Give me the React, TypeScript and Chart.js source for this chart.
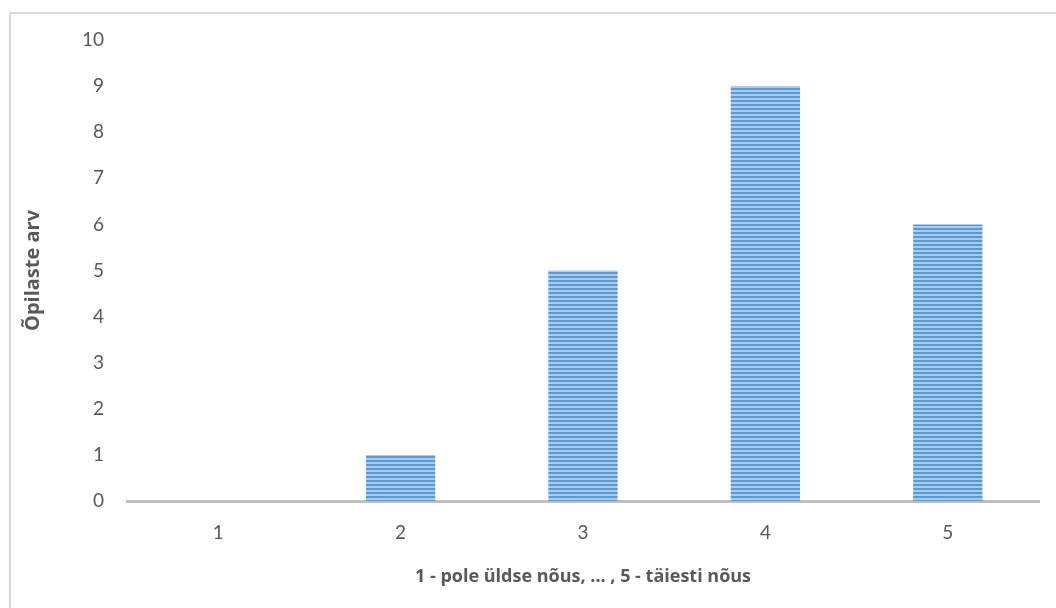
import React, { useEffect, useRef } from "react";
import { Chart, registerables } from "chart.js";

Chart.register(...registerables);

const categories = ["1", "2", "3", "4", "5"];
const studentCounts = [0, 1, 5, 9, 6];
const yTicks = [0, 1, 2, 3, 4, 5, 6, 7, 8, 9, 10];
const xAxisTitle = "1 - pole üldse nõus, ... , 5 - täiesti nõus";
const yAxisTitle = "Õpilaste arv";

const TEXT = "#595959";
const FONT = "Lato, 'Open Sans', sans-serif";
const TITLE_FONT = "'Open Sans', Lato, sans-serif";

// Horizontal-stripe fill for the bars
function makeStripes(ctx: CanvasRenderingContext2D): CanvasPattern | string {
  const c = document.createElement("canvas");
  c.width = 4;
  c.height = 4;
  const p = c.getContext("2d");
  if (!p) return "#5B9BD5";
  p.fillStyle = "#5B9BD5";
  p.fillRect(0, 0, 4, 2);
  p.fillStyle = "#A9CBEC";
  p.fillRect(0, 2, 4, 2);
  return ctx.createPattern(c, "repeat") || "#5B9BD5";
}

// Light frame around the chart area of the page
const framePlugin = {
  id: "frame",
  beforeDraw(chart: Chart) {
    const ctx = chart.ctx;
    ctx.save();
    ctx.fillStyle = "#ffffff";
    ctx.fillRect(0, 0, chart.width, chart.height);
    ctx.strokeStyle = "#D9D9D9";
    ctx.lineWidth = 2;
    ctx.strokeRect(10, 13, 3000, 3000);
    ctx.restore();
  },
};

export default function App() {
  const ref = useRef<HTMLCanvasElement>(null);

  useEffect(() => {
    const canvas = ref.current;
    if (!canvas) return;
    const ctx = canvas.getContext("2d");
    if (!ctx) return;
    const chart = new Chart(canvas, {
      type: "bar",
      data: {
        labels: categories,
        datasets: [
          {
            data: studentCounts,
            backgroundColor: makeStripes(ctx),
            borderWidth: 0,
            barPercentage: 0.38,
            categoryPercentage: 1,
          },
        ],
      },
      options: {
        responsive: false,
        animation: false,
        layout: { padding: { left: 0, right: 17, top: 40, bottom: 0 } },
        plugins: {
          legend: { display: false },
          tooltip: { enabled: false },
        },
        scales: {
          x: {
            z: 1,
            grid: { display: false, drawTicks: false },
            border: { display: true, color: "#BFBFBF", width: 3 },
            ticks: {
              color: TEXT,
              padding: 20,
              font: { family: FONT, size: 19 },
            },
            title: {
              display: true,
              text: xAxisTitle,
              color: TEXT,
              font: { family: TITLE_FONT, size: 18, weight: "bold" },
              padding: { top: 0, bottom: 20 },
            },
            afterFit(scale: any) {
              scale.height = 107;
            },
          },
          y: {
            min: 0,
            max: 10,
            grid: { display: false, drawTicks: false },
            border: { display: false },
            afterBuildTicks(scale: any) {
              scale.ticks = yTicks.map((v) => ({ value: v }));
            },
            ticks: {
              color: TEXT,
              padding: 23,
              font: { family: FONT, size: 19 },
            },
            title: {
              display: true,
              text: yAxisTitle,
              color: TEXT,
              font: { family: TITLE_FONT, size: 20, weight: "bold" },
              padding: { top: 21, bottom: 0 },
            },
            afterFit(scale: any) {
              scale.width = 127;
            },
          },
        },
      },
      plugins: [framePlugin],
    });
    return () => chart.destroy();
  }, []);

  return (
    <div style={{ position: "fixed", left: 0, top: 0, width: 1056, height: 608, background: "#fff" }}>
      <canvas ref={ref} width={1056} height={608} style={{ display: "block" }} />
    </div>
  );
}
